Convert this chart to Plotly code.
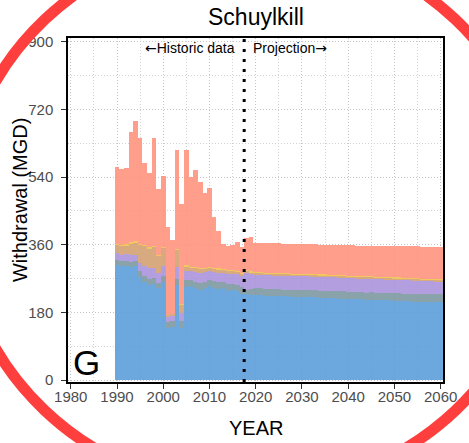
import plotly.graph_objects as go

# ---------------- data ----------------
years = list(range(1990, 2061))

# Historic 1990-2017
blue_hist = [306, 303, 304, 302, 304, 275, 262, 252, 256, 244, 262, 138, 142, 252, 138,
             248, 250, 244, 240, 245, 250, 246, 242, 244, 238, 240, 236, 228]
gray_hist = [13, 13, 13, 13, 12, 14, 16, 17, 16, 15, 15, 17, 16, 18, 18,
             18, 17, 18, 18, 17, 16, 17, 18, 17, 18, 17, 18, 20]
purple_hist = [18, 18, 18, 18, 17, 22, 26, 28, 27, 26, 26, 13, 13, 30, 22,
               24, 24, 26, 28, 25, 24, 25, 26, 25, 27, 26, 27, 28]
tan_hist = [22, 22, 23, 30, 32, 48, 52, 53, 54, 45, 48, 4, 4, 46, 22,
            12, 8, 10, 10, 8, 8, 7, 8, 7, 7, 7, 6, 6]
yellow_hist = [3, 3, 3, 4, 5, 3, 3, 3, 4, 3, 3, 1, 1, 4, 3,
               3, 3, 3, 3, 3, 3, 3, 3, 3, 3, 3, 3, 3]
total_hist = [568, 561, 563, 661, 688, 643, 577, 552, 645, 508, 543, 406, 372, 611, 469,
              611, 541, 559, 527, 497, 512, 435, 397, 362, 357, 359, 367, 355]

# Projection 2018-2060
blue_proj = [228, 227,
             226, 226, 225, 225, 224, 224, 223, 223, 222, 222,
             221, 221, 220, 220, 219, 219, 218, 218, 217, 217,
             216, 216, 215, 215, 214, 214, 213, 213, 212, 212,
             211, 211, 210, 210, 209, 209, 208, 208, 208, 207, 207]
gray_proj = [12, 15,
             18, 18, 18, 18, 18, 18, 18, 18, 18, 18,
             19, 19, 19, 19, 19, 19, 19, 19, 19, 19,
             19, 19, 19, 19, 19, 20, 20, 20, 20, 20,
             20, 20, 20, 20, 20, 21, 21, 21, 21, 21, 21]
purple_proj = [44, 40,
               36, 36, 36, 36, 36, 36, 36, 36, 36, 36,
               36, 36, 36, 36, 36, 36, 36, 36, 36, 36,
               36, 36, 36, 36, 36, 35, 35, 35, 35, 35,
               35, 35, 35, 35, 35, 34, 34, 34, 34, 34, 34]
tan_proj = [5, 4,
            4, 4, 4, 4, 4, 4, 4, 4, 4, 4,
            4, 4, 4, 4, 4, 4, 4, 4, 4, 4,
            4, 4, 4, 4, 4, 4, 4, 4, 4, 4,
            4, 4, 4, 4, 4, 4, 4, 4, 4, 4, 4]
yellow_proj = [3, 3,
               3, 3, 3, 3, 3, 3, 3, 3, 3, 3,
               3, 3, 3, 3, 3, 3, 3, 3, 3, 3,
               3, 3, 3, 3, 3, 3, 3, 3, 3, 3,
               3, 3, 3, 3, 3, 3, 3, 3, 3, 3, 3]
total_proj = [378, 380,
              366, 366, 365, 365, 364, 364, 363, 363, 362, 362,
              362, 361, 361, 361, 360, 360, 360, 360, 359, 359,
              359, 359, 358, 358, 358, 358, 357, 357, 357, 357,
              357, 356, 356, 356, 356, 356, 355, 355, 355, 355, 355]

layer_names = ["Public supply", "Industrial", "Power", "Mining", "Agriculture", "Other"]
layer_colors = ["rgba(88,155,216,0.88)", "rgba(122,150,158,0.88)", "rgba(168,145,220,0.88)",
                "rgba(210,158,110,0.88)", "rgba(238,192,75,0.88)", "rgba(255,145,122,0.88)"]

blue = blue_hist + blue_proj
gray = gray_hist + gray_proj
purple = purple_hist + purple_proj
tan = tan_hist + tan_proj
yellow = yellow_hist + yellow_proj
total = total_hist + total_proj
salmon = [t - (b + g + p + a + y) for t, b, g, p, a, y in zip(total, blue, gray, purple, tan, yellow)]

layers = [blue, gray, purple, tan, yellow, salmon]

split_year = 2017.5
x_ticks = [1980, 1990, 2000, 2010, 2020, 2030, 2040, 2050, 2060]
y_ticks = [0, 180, 360, 540, 720, 900]

# ---------------- figure ----------------
FONT = "Liberation Sans, Arial, sans-serif"
fig = go.Figure()
for name, col, vals in zip(layer_names, layer_colors, layers):
    fig.add_trace(go.Bar(x=years, y=vals, name=name, width=1,
                         marker=dict(color=col, line=dict(width=0)),
                         showlegend=False, hoverinfo="skip"))

L, R, T, B = 68, 18, 38, 61
W, H = 469, 443
pw, ph = W - L - R, H - T - B


def px_x(p):
    return (p - L) / pw


def px_y(p):
    return (H - B - p) / ph


axis_common = dict(showline=True, linecolor="black", linewidth=1.5, mirror=True,
                   ticks="outside", ticklen=5, tickwidth=1, tickcolor="#333333",
                   tickfont=dict(family=FONT, size=15, color="#4d4d4d"),
                   showgrid=True, gridcolor="#c4c4c4", griddash="1px,2px", gridwidth=1,
                   zeroline=False)

fig.update_layout(
    width=W, height=H, autosize=False,
    margin=dict(l=L, r=R, t=T, b=B),
    barmode="stack", bargap=0,
    plot_bgcolor="white", paper_bgcolor="white",
    font=dict(family=FONT),
    xaxis=dict(range=[1979.4, 2060.5], tickvals=x_ticks, ticklabelstandoff=-5,
               minor=dict(dtick=5, tick0=1980, showgrid=True, gridcolor="#d2d2d2",
                          griddash="1px,2px", ticks=""),
               **axis_common),
    yaxis=dict(range=[-5, 910], tickvals=y_ticks, ticklabelstandoff=5,
               minor=dict(dtick=90, tick0=0, showgrid=True, gridcolor="#d2d2d2",
                          griddash="1px,2px", ticks=""),
               **axis_common),
)

# split line
fig.add_shape(type="line", xref="x", yref="paper", x0=split_year, x1=split_year, y0=0, y1=1,
              line=dict(color="black", width=3, dash="3px,7px"), layer="above")

ARROW = '<span style="font-family:DejaVu Sans">{}</span>'
annots = [
    dict(text="Schuylkill", x=0.5, y=px_y(17), font=dict(size=23, color="black")),
    dict(text=ARROW.format("←") + "Historic data", x=split_year, xref="x", y=px_y(48),
         xanchor="right", xshift=-7, font=dict(size=14, color="black")),
    dict(text="Projection" + ARROW.format("→"), x=split_year, xref="x", y=px_y(48),
         xanchor="left", xshift=7, font=dict(size=14, color="black")),
    dict(text="YEAR", x=0.5, y=px_y(428), font=dict(size=20, color="black")),
    dict(text="Withdrawal (MGD)", x=px_x(19), y=px_y(200), textangle=-90,
         font=dict(size=20, color="black")),
    dict(text="G", x=px_x(71), y=px_y(362), xanchor="left", font=dict(size=35, color="black")),
]
for a in annots:
    a.setdefault("xref", "paper")
    a.setdefault("yref", "paper")
    a.setdefault("xanchor", "center")
    a.setdefault("yanchor", "middle")
    a["showarrow"] = False
    a["font"]["family"] = FONT
    fig.add_annotation(**a)

# red ring
cx, cy, rx, ry = 254, 215, 297, 276
fig.add_shape(type="circle", xref="paper", yref="paper",
              x0=px_x(cx - rx), x1=px_x(cx + rx), y0=px_y(cy + ry), y1=px_y(cy - ry),
              line=dict(color="#FF3E3E", width=11), fillcolor="rgba(0,0,0,0)", layer="above")

fig.write_html("out.html")
